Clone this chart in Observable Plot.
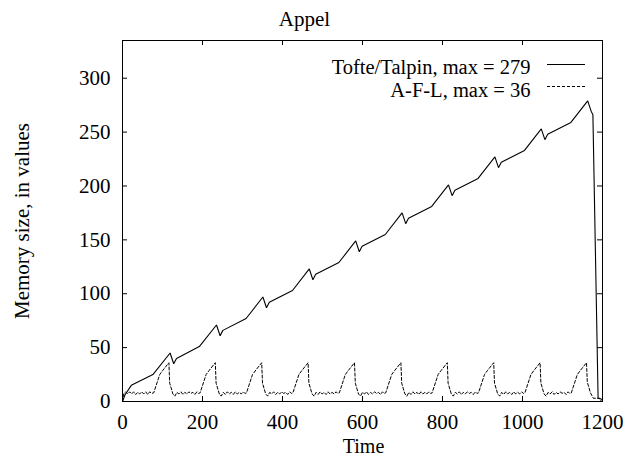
<!DOCTYPE html>
<html>
<head>
<meta charset="utf-8">
<script src="https://cdn.jsdelivr.net/npm/d3@7"></script>
<script src="https://cdn.jsdelivr.net/npm/@observablehq/plot@0.6"></script>
<style>
  html, body { margin: 0; padding: 0; background: white; }
</style>
</head>
<body>
<div id="chart"></div>
<script>
const title = "Appel";
const xLabel = "Time";
const yLabel = "Memory size, in values";
const xTicks = [0, 200, 400, 600, 800, 1000, 1200];
const yTicks = [0, 50, 100, 150, 200, 250, 300];
const legendLabels = ["Tofte/Talpin, max = 279", "A-F-L, max = 36"];
const legendDashes = [null, "3,2"];

// Tofte/Talpin series: [time, memory size]
const tofteTalpin = [
  [0,0],[6,6],[22,15],[76,25],[119,45],
  [128,35],[135,40],[192,51],[235,71],
  [244,61],[251,66],[309,77],[351,97],
  [360,87],[367,92],[425,103],[467,123],
  [476,113],[483,118],[541,129],[583,149],
  [592,139],[599,144],[657,155],[699,175],
  [708,165],[715,170],[773,181],[815,201],
  [824,191],[831,196],[889,207],[931,227],
  [940,217],[947,222],[1005,233],[1047,253],
  [1056,243],[1063,248],[1121,259],[1163,279],
  [1172,269],[1176,266],[1189,3],[1198,2]
];

// A-F-L series: [time, memory size]
const afl = [
  [0,0],[3,7],[8,9],[13,7],[18,9],[23,7],[28,9],[33,6.5],[38,8.5],[43,7],[48,9],[53,7],[58,9],[63,6.5],[68,9],[73,7.5],
  [78,8],[93,25],[101,29],[116,36],[118,17],[126,7],[131,5],[136,8.5],[141,7],[146,9],[151,6.5],[156,8.5],[161,7],[166,9],[171,7.5],[176,8.5],[181,6.5],[186,9],[190,7.5],
  [194,8],[209,25],[217,29],[232,36],[234,17],[242,7],[247,5],[252,8.5],[257,6.5],[262,9],[267,7],[272,8.5],[277,6.5],[282,9],[287,7],[292,8.5],[297,7],[302,9],[306,7.5],
  [310,8],[325,25],[333,29],[348,36],[350,17],[358,7],[363,5],[368,8.5],[373,7],[378,9],[383,6.5],[388,8.5],[393,7],[398,9],[403,7.5],[408,8.5],[413,6.5],[418,9],[422,7.5],
  [426,8],[441,25],[449,29],[464,36],[466,17],[474,7],[479,5],[484,8.5],[489,6.5],[494,9],[499,7],[504,8.5],[509,6.5],[514,9],[519,7],[524,8.5],[529,7],[534,9],[538,7.5],
  [542,8],[557,25],[565,29],[580,36],[582,17],[590,7],[595,5],[600,8.5],[605,7],[610,9],[615,6.5],[620,8.5],[625,7],[630,9],[635,7.5],[640,8.5],[645,6.5],[650,9],[654,7.5],
  [658,8],[673,25],[681,29],[696,36],[698,17],[706,7],[711,5],[716,8.5],[721,6.5],[726,9],[731,7],[736,8.5],[741,6.5],[746,9],[751,7],[756,8.5],[761,7],[766,9],[770,7.5],
  [774,8],[789,25],[797,29],[812,36],[814,17],[822,7],[827,5],[832,8.5],[837,7],[842,9],[847,6.5],[852,8.5],[857,7],[862,9],[867,7.5],[872,8.5],[877,6.5],[882,9],[886,7.5],
  [890,8],[905,25],[913,29],[928,36],[930,17],[938,7],[943,5],[948,8.5],[953,6.5],[958,9],[963,7],[968,8.5],[973,6.5],[978,9],[983,7],[988,8.5],[993,7],[998,9],[1002,7.5],
  [1006,8],[1021,25],[1029,29],[1044,36],[1046,17],[1054,7],[1059,5],[1064,8.5],[1069,7],[1074,9],[1079,6.5],[1084,8.5],[1089,7],[1094,9],[1099,7.5],[1104,8.5],[1109,6.5],[1114,9],[1118,7.5],
  [1122,8],[1137,25],[1145,29],[1160,36],[1162,18],[1170,8],[1177,3],[1194,3],[1197,0]
];

const ttData = tofteTalpin.map(([t, v]) => ({t, v}));
const aflData = afl.map(([t, v]) => ({t, v}));

function legendSamples(...args) {
  const dims = args.find(a => a && typeof a === "object" && "marginLeft" in a && "width" in a);
  const right = dims.width - dims.marginRight;
  const top = dims.marginTop;
  const g = d3.create("svg:g").attr("fill", "none").attr("stroke", "black").attr("stroke-width", 1);
  legendLabels.forEach((label, i) => {
    const y = top + 24.5 + 22 * i;
    const ln = g.append("line")
      .attr("x1", right - 55).attr("x2", right - 17)
      .attr("y1", y).attr("y2", y);
    if (legendDashes[i]) ln.attr("stroke-dasharray", legendDashes[i]);
  });
  return g.node();
}

const FW = 480, FH = 361;
const chart = Plot.plot({
  width: 624,
  height: 455,
  marginLeft: 122,
  marginRight: 22,
  marginTop: 40,
  marginBottom: 54,
  x: {domain: [0, 1200]},
  y: {domain: [0, 335]},
  style: {
    fontFamily: "'Liberation Serif', 'Times New Roman', serif",
    fontSize: "21px",
    background: "white",
    color: "black",
    overflow: "visible"
  },
  marks: [
    Plot.frame({stroke: "black", strokeWidth: 1}),
    Plot.tickX(xTicks, {x: d => d, insetTop: FH - 5, stroke: "black"}),
    Plot.tickX(xTicks, {x: d => d, insetBottom: FH - 5, stroke: "black"}),
    Plot.tickY(yTicks, {y: d => d, insetRight: FW - 5, stroke: "black"}),
    Plot.tickY(yTicks, {y: d => d, insetLeft: FW - 5, stroke: "black"}),
    Plot.axisX({ticks: xTicks, tickSize: 0, tickPadding: 12.5, label: null, tickFormat: "d"}),
    Plot.axisY({ticks: yTicks, tickSize: 0, tickPadding: 12, label: null, tickFormat: "d"}),
    Plot.line(ttData, {x: "t", y: "v", stroke: "black", strokeWidth: 1.1, strokeLinejoin: "miter"}),
    Plot.line(aflData, {x: "t", y: "v", stroke: "black", strokeWidth: 1, strokeDasharray: "3,2"}),
    Plot.text([title], {frameAnchor: "top", text: d => d, dx: -58, dy: -15, lineAnchor: "bottom", fill: "black"}),
    Plot.text([xLabel], {frameAnchor: "bottom", text: d => d, dx: 1, dy: 51, lineAnchor: "bottom", fill: "black", fontSize: 20}),
    Plot.text([yLabel], {frameAnchor: "left", text: d => d, dx: -94, rotate: -90, lineAnchor: "bottom", textAnchor: "middle", fill: "black"}),
    Plot.text(legendLabels, {frameAnchor: "top-right", text: d => d, dx: -72, lineAnchor: "bottom", textAnchor: "end", fill: "black", fontSize: 20.5, filter: (d, i) => i === 0, dy: 33.5}),
    Plot.text(legendLabels, {frameAnchor: "top-right", text: d => d, dx: -72, lineAnchor: "bottom", textAnchor: "end", fill: "black", fontSize: 20.5, filter: (d, i) => i === 1, dy: 56}),
    legendSamples
  ]
});
document.getElementById("chart").appendChild(chart);
</script>
</body>
</html>
